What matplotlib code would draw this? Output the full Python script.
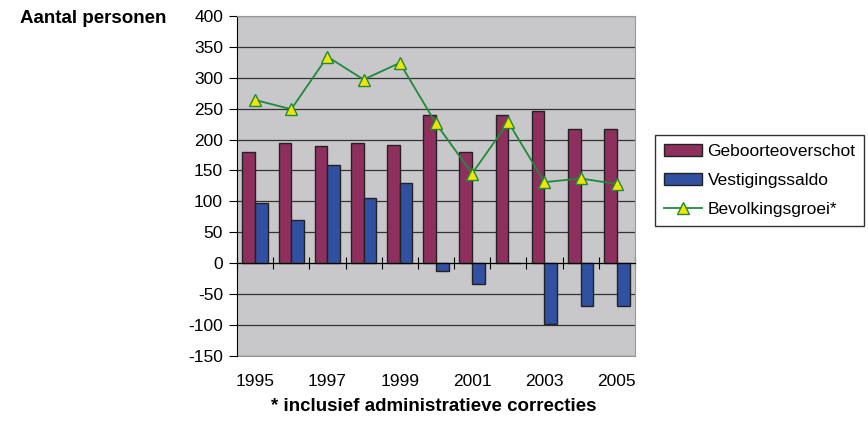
import numpy as np
import matplotlib.pyplot as plt

plt.rcParams['font.family'] = ['Liberation Sans', 'DejaVu Sans']
plt.rcParams['axes.unicode_minus'] = False

years = [1995, 1996, 1997, 1998, 1999, 2000, 2001, 2002, 2003, 2004, 2005]
geboorte = [180, 194, 189, 194, 191, 239, 180, 239, 246, 217, 217]
vestiging = [98, 70, 158, 105, 130, -12, -33, 0, -98, -70, -70]
groei = [264, 249, 334, 297, 324, 226, 145, 228, 131, 137, 128]

x = np.arange(len(years))
w = 0.35

fig = plt.figure(figsize=(8.68, 4.41), dpi=100)
ax = fig.add_axes([0.273, 0.193, 0.4585, 0.771])
ax.set_facecolor('#C8C8CA')

b1 = ax.bar(x - w / 2, geboorte, w, color='#8E2F5E', edgecolor='#222222', linewidth=1,
            label='Geboorteoverschot', zorder=3)
b2 = ax.bar(x + w / 2, vestiging, w, color='#3050A2', edgecolor='#222222', linewidth=1,
            label='Vestigingssaldo', zorder=3)
l1, = ax.plot(x, groei, color='#1E8A3C', linewidth=1.3, marker='^', markersize=8,
              markerfacecolor='#F2E600', markeredgecolor='#1E8A3C', markeredgewidth=1,
              label='Bevolkingsgroei*', zorder=4)

ax.set_xlim(-0.5, len(years) - 0.5)
ax.set_ylim(-150, 400)
ax.set_yticks(np.arange(-150, 401, 50))
ax.grid(axis='y', color='#333333', linewidth=0.9, zorder=0)
ax.tick_params(axis='y', direction='out', length=6, color='black', labelsize=12.5, pad=4)

# x axis crossing at zero with ticks between categories
ax.spines['bottom'].set_position(('data', 0))
ax.spines['bottom'].set_color('black')
ax.spines['bottom'].set_zorder(5)
ax.set_xticks(np.arange(-0.5, len(years), 1))
ax.set_xticklabels([])
ax.tick_params(axis='x', direction='inout', length=8, color='black')
for s in ['top', 'right']:
    ax.spines[s].set_color('#999999')
ax.spines['left'].set_color('black')

sec = ax.secondary_xaxis('bottom')
sec.set_xticks(x[::2])
sec.set_xticklabels([str(y) for y in years[::2]], fontsize=12.5)
sec.tick_params(length=0, pad=13)
sec.spines['bottom'].set_color('#999999')

fig.text(0.023, 0.958, 'Aantal personen', fontsize=13.5, fontweight='bold', va='center')
fig.text(0.5, 0.078, '* inclusief administratieve correcties', fontsize=13.5,
         fontweight='bold', ha='center', va='center')

fig.legend(handles=[b1, b2, l1], loc='upper left', bbox_to_anchor=(0.755, 0.694),
           frameon=True, fancybox=False, edgecolor='black', fontsize=12.5,
           handlelength=2.2, borderpad=0.5, labelspacing=0.8, handletextpad=0.3,
           borderaxespad=0)

fig.savefig('out.png', dpi=100)
